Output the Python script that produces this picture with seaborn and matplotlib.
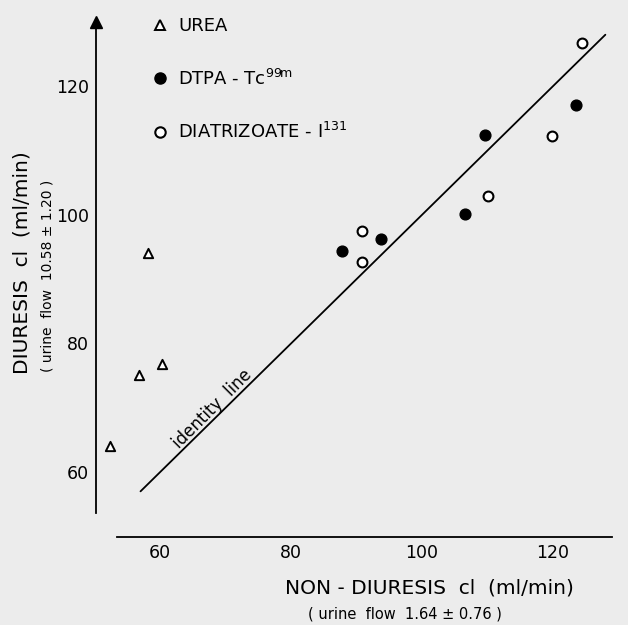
import numpy as np
import pandas as pd
import seaborn as sns
import matplotlib.pyplot as plt
from matplotlib.lines import Line2D

# ---- data ----
urea_x = [52.4, 56.8, 60.3, 58.2]
urea_y = [64.0, 75.1, 76.8, 94.1]
dtpa_x = [87.7, 93.7, 106.6, 109.6, 123.5]
dtpa_y = [94.3, 96.2, 100.2, 112.4, 117.1]
diat_x = [90.8, 90.8, 110.0, 119.8, 124.4]
diat_y = [97.5, 92.7, 102.9, 112.3, 126.7]
identity_ends = [57, 128]
major_ticks = [60, 80, 100, 120]
minor_ticks = [70, 90, 110]
labels = ["UREA", r"DTPA - Tc$^{\mathrm{99m}}$", r"DIATRIZOATE - I$^{\mathrm{131}}$"]

sns.set_style("white")
plt.rcParams['font.family'] = ['DejaVu Sans']
plt.rcParams['text.color'] = 'black'
bg = '#ececec'

fig = plt.figure(figsize=(6.28, 6.25), dpi=100, facecolor=bg)
ax = fig.add_axes([96/628, 88/625, (625-96)/628, (616-88)/625])
ax.set_facecolor('none')

sns.lineplot(x=identity_ends, y=identity_ends, color='black', lw=1.3, ax=ax)
sns.scatterplot(x=urea_x, y=urea_y, marker='^', s=45, facecolor='white',
                edgecolor='black', linewidth=1.4, ax=ax, zorder=3)
sns.scatterplot(x=dtpa_x, y=dtpa_y, marker='o', s=60, color='black',
                edgecolor='black', linewidth=1, ax=ax, zorder=3)
sns.scatterplot(x=diat_x, y=diat_y, marker='o', s=50, facecolor='white',
                edgecolor='black', linewidth=1.5, ax=ax, zorder=3)

ax.set_xlim(50.2, 131)
ax.set_ylim(49.9, 132)
for s in ['top', 'right']:
    ax.spines[s].set_visible(False)
ax.spines['left'].set_bounds(53.6, 130)
ax.spines['bottom'].set_bounds(53.4, 129)
for s in ['left', 'bottom']:
    ax.spines[s].set_linewidth(1.3)
    ax.spines[s].set_color('black')
ax.plot([50.2], [130], marker='^', color='black', markersize=8,
        clip_on=False, zorder=4)

ax.set_xticks(major_ticks)
ax.set_yticks(major_ticks)
ax.set_xticks(minor_ticks, minor=True)
ax.set_yticks(minor_ticks, minor=True)
ax.tick_params(which='major', direction='in', length=4, width=1.2,
               labelsize=12.5, pad=5, colors='black')
ax.tick_params(which='minor', direction='in', length=3, width=1.0)
ax.set_xlabel('')
ax.set_ylabel('')

handles = [
    Line2D([], [], marker='^', ls='', markersize=7, markerfacecolor='white',
           markeredgecolor='black', markeredgewidth=1.4),
    Line2D([], [], marker='o', ls='', markersize=8, markerfacecolor='black',
           markeredgecolor='black'),
    Line2D([], [], marker='o', ls='', markersize=7.5, markerfacecolor='white',
           markeredgecolor='black', markeredgewidth=1.5),
]
leg = fig.legend(handles, labels, loc='upper left', bbox_to_anchor=(151/628, 1 - 17/625),
                 frameon=False, fontsize=13, labelspacing=1.85, handlelength=1.0,
                 handletextpad=0.5, borderpad=0, borderaxespad=0)
for t in leg.get_texts():
    t.set_color('black')

fig.text(212/628, 1 - 409/625, 'identity  line', rotation=45,
         ha='center', va='center', fontsize=12)

fig.text(429/628, 1 - 588/625, 'NON - DIURESIS  cl  (ml/min)', ha='center',
         va='center', fontsize=14.5)
fig.text(405/628, 1 - 614/625, '( urine  flow  1.64 ± 0.76 )', ha='center',
         va='center', fontsize=10.5)
fig.text(22/628, 1 - 263/625, 'DIURESIS  cl  (ml/min)', ha='center',
         va='center', fontsize=14.5, rotation=90)
fig.text(48/628, 1 - 276/625, '( urine  flow  10.58 ± 1.20 )', ha='center',
         va='center', fontsize=10, rotation=90)

fig.savefig('out.png', dpi=100, facecolor=bg)
